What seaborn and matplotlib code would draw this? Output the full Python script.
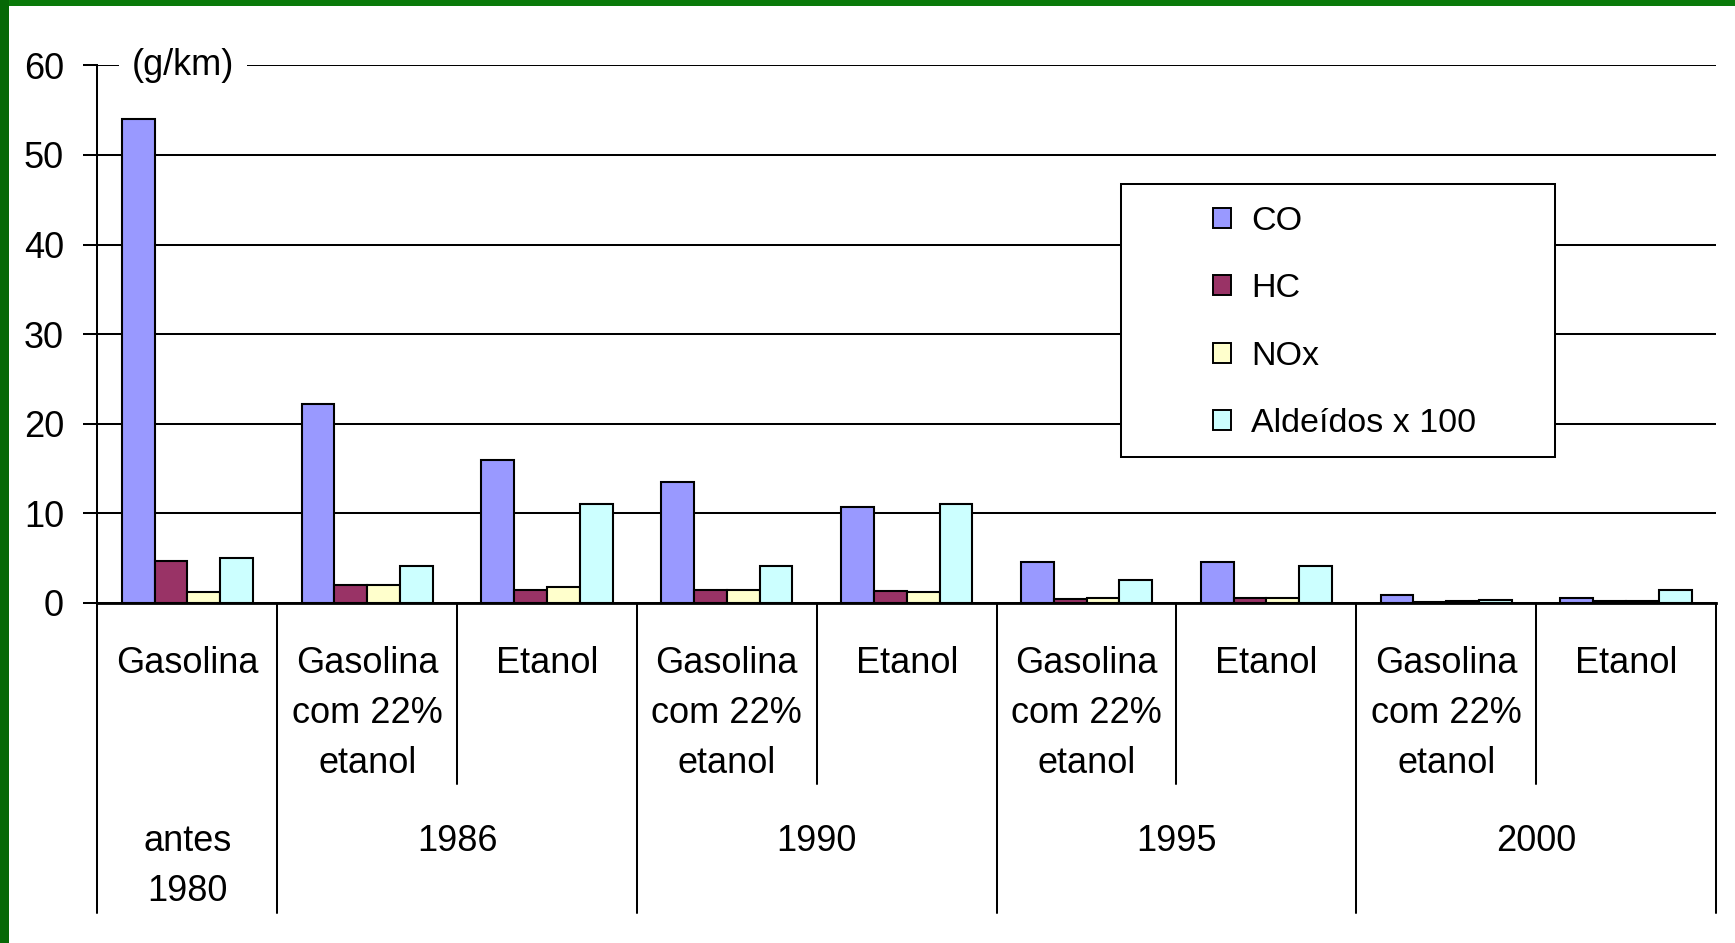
import numpy as np
import pandas as pd
import matplotlib
matplotlib.use("Agg")
import matplotlib.pyplot as plt
from matplotlib.patches import Rectangle, Patch
from matplotlib.transforms import blended_transform_factory
import seaborn as sns

# --- data -------------------------------------------------------------
category_keys = ["antes1980_gas", "1986_gasC", "1986_eta", "1990_gasC", "1990_eta",
                 "1995_gasC", "1995_eta", "2000_gasC", "2000_eta"]
fuel_labels = ["Gasolina", "Gasolina\ncom 22%\netanol", "Etanol",
               "Gasolina\ncom 22%\netanol", "Etanol",
               "Gasolina\ncom 22%\netanol", "Etanol",
               "Gasolina\ncom 22%\netanol", "Etanol"]
year_labels = ["antes\n1980", "1986", "1990", "1995", "2000"]
year_centers = [0, 1.5, 3.5, 5.5, 7.5]

pollutants = ["CO", "HC", "NOx", "Aldeídos x 100"]
co = [54.0, 22.2, 16.0, 13.5, 10.7, 4.6, 4.6, 0.85, 0.6]
hc = [4.7, 2.0, 1.5, 1.4, 1.3, 0.5, 0.6, 0.1, 0.2]
nox = [1.2, 2.0, 1.8, 1.4, 1.2, 0.6, 0.6, 0.2, 0.2]
ald = [5.0, 4.1, 11.1, 4.1, 11.1, 2.6, 4.1, 0.3, 1.45]
colors = ["#9999FF", "#993366", "#FFFFCC", "#CCFFFF"]

df = pd.DataFrame({
    "categoria": category_keys * 4,
    "poluente": np.repeat(pollutants, len(category_keys)),
    "valor": co + hc + nox + ald,
})

# --- style ------------------------------------------------------------
sns.set_style("white")
plt.rcParams["font.family"] = ["Liberation Sans", "DejaVu Sans"]
plt.rcParams["text.color"] = "black"
plt.rcParams["ytick.color"] = "black"
plt.rcParams["ytick.labelcolor"] = "black"
FS = 26
FS_LEG = 24.5
LS = 1.55

W, H = 1735, 943
fig = plt.figure(figsize=(W / 100, H / 100), dpi=100)
fig.patch.set_facecolor("white")

ax_left, ax_right, ax_top, ax_bottom = 97.4, 1716.0, 65.3, 603.0
ax = fig.add_axes([ax_left / W, 1 - ax_bottom / H,
                   (ax_right - ax_left) / W, (ax_bottom - ax_top) / H])
ax.set_axisbelow(True)

sns.barplot(data=df, x="categoria", y="valor", hue="poluente",
            order=category_keys, hue_order=pollutants, palette=colors,
            saturation=1, width=0.73, gap=0, edgecolor="black", linewidth=1.5,
            legend=False, ax=ax)

ax.set_xlim(-0.5, len(category_keys) - 0.5)
ax.set_ylim(0, 60)
ax.set_yticks(np.arange(0, 61, 10))
ax.yaxis.grid(True, color="black", linewidth=1.45)
ax.xaxis.grid(False)
ax.tick_params(axis="y", direction="out", length=10, width=1.45, color="black",
               labelsize=FS, labelcolor="black", pad=14, left=True)
ax.tick_params(axis="x", bottom=False, labelbottom=False)
ax.set_xlabel("")
ax.set_ylabel("")
for s in ("top", "right"):
    ax.spines[s].set_visible(False)
ax.spines["left"].set_color("black")
ax.spines["left"].set_linewidth(1.45)
ax.spines["bottom"].set_color("black")
ax.spines["bottom"].set_linewidth(2.0)

# unit label sitting on the top gridline
ax.text(-0.31, 60, "(g/km)", ha="left", va="center", fontsize=FS, color="black",
        zorder=6, clip_on=False,
        bbox=dict(facecolor="white", edgecolor="none", pad=9))

# --- hierarchical category axis ---------------------------------------
tx = blended_transform_factory(ax.transData, ax.transAxes)
tf = blended_transform_factory(ax.transData, fig.transFigure)
ax_h = ax_bottom - ax_top
long_end = -(913 - ax_bottom) / ax_h
short_end = -(783.5 - ax_bottom) / ax_h
for xb in [-0.5, 0.5, 2.5, 4.5, 6.5, 8.5]:
    ax.plot([xb, xb], [0, long_end], transform=tx, color="black",
            linewidth=1.45, clip_on=False)
for xb in [1.5, 3.5, 5.5, 7.5]:
    ax.plot([xb, xb], [0, short_end], transform=tx, color="black",
            linewidth=1.45, clip_on=False)

for i, lab in enumerate(fuel_labels):
    ax.text(i, 1 - 646 / H, lab, transform=tf, ha="center", va="top",
            fontsize=FS, linespacing=LS, color="black")
for xc, lab in zip(year_centers, year_labels):
    ax.text(xc, 1 - 824 / H, lab, transform=tf, ha="center", va="top",
            fontsize=FS, linespacing=LS, color="black")

# --- legend -----------------------------------------------------------
box = Rectangle((1121 / W, 1 - 457 / H), (1555 - 1121) / W, (457 - 184) / H,
                transform=fig.transFigure, facecolor="white", edgecolor="black",
                linewidth=1.45, zorder=4, clip_on=False)
ax.add_patch(box)
handles = [Patch(facecolor=c, edgecolor="black", linewidth=1.4) for c in colors]
leg = ax.legend(handles, pollutants, loc="upper left",
                bbox_to_anchor=(1213 / W, 1 - 206 / H), bbox_transform=fig.transFigure,
                frameon=False, fontsize=FS_LEG, handlelength=0.53, handleheight=0.53,
                handletextpad=0.585, labelspacing=1.07, borderpad=0, borderaxespad=0)
for t in leg.get_texts():
    t.set_color("black")
leg.set_zorder(7)

# --- green slide frame ------------------------------------------------
fig.patches.append(Rectangle((0, 1 - 6 / H), 1, 6 / H, transform=fig.transFigure,
                             facecolor="#0a7a0a", edgecolor="none", zorder=10))
fig.patches.append(Rectangle((0, 0), 9 / W, 1, transform=fig.transFigure,
                             facecolor="#066806", edgecolor="none", zorder=10))

fig.savefig("out.png", dpi=100, facecolor="white")
